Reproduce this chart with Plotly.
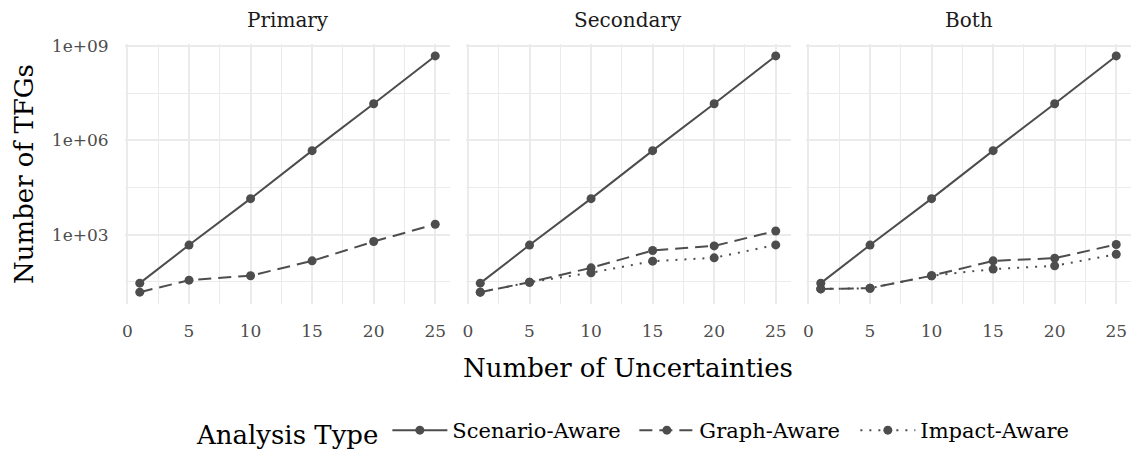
import plotly.graph_objects as go
from plotly.subplots import make_subplots

# Number of uncertainties on the x axis
uncertainties = [1, 5, 10, 15, 20, 25]

# Number of TFGs per analysis type and facet
scenario_aware = [29, 470, 14000, 470000, 1.45e7, 4.8e8]

primary_graph = [15, 36, 50, 148, 610, 2150]

secondary_graph = [15, 31, 89, 316, 443, 1320]
secondary_impact = [15, 31, 62, 145, 185, 475]

both_graph = [19, 20, 50, 148, 180, 490]
both_impact = [19, 20, 50, 81, 103, 240]

facets = ["Primary", "Secondary", "Both"]
analysis_types = ["Scenario-Aware", "Graph-Aware", "Impact-Aware"]
y_tick_vals = [1e3, 1e6, 1e9]
y_tick_text = ["1e+03", "1e+06", "1e+09"]
x_tick_vals = [0, 5, 10, 15, 20, 25]

panel_series = [
    {"Scenario-Aware": scenario_aware, "Graph-Aware": primary_graph},
    {"Scenario-Aware": scenario_aware, "Graph-Aware": secondary_graph,
     "Impact-Aware": secondary_impact},
    {"Scenario-Aware": scenario_aware, "Graph-Aware": both_graph,
     "Impact-Aware": both_impact},
]

line_dash = {"Scenario-Aware": "solid", "Graph-Aware": "13px,7px",
             "Impact-Aware": "2px,7px"}
# horizontal room given to each legend entry's label
entry_width = {"Scenario-Aware": 177, "Graph-Aware": 151, "Impact-Aware": 155}

INK = "#4d4d4d"
GRID = "#ebebeb"
FONT = "DejaVu Serif"

W, H = 1132, 474
L, R, T, B = 125, 1, 44, 170
plot_w = W - L - R
plot_h = H - T - B
gap = 15.5
panel_w = (plot_w - 2 * gap) / 3

fig = make_subplots(rows=1, cols=3, shared_yaxes=True,
                    horizontal_spacing=gap / plot_w)

shown = set()
for col, series in enumerate(panel_series, start=1):
    for name in analysis_types:
        if name not in series:
            continue
        fig.add_trace(
            go.Scatter(
                x=uncertainties, y=series[name], name=name,
                mode="lines+markers",
                line=dict(color=INK, width=2, dash=line_dash[name]),
                marker=dict(color=INK, size=9),
                legendgroup=name,
                legendwidth=entry_width[name],
                showlegend=name not in shown,
            ),
            row=1, col=col,
        )
        shown.add(name)

for col in range(1, 4):
    fig.update_xaxes(
        range=[-0.2, 26.2], tickvals=x_tick_vals,
        showgrid=True, gridcolor=GRID, gridwidth=2,
        minor=dict(tickvals=[2.5, 7.5, 12.5, 17.5, 22.5], showgrid=True,
                   gridcolor=GRID, gridwidth=1),
        zeroline=False, showline=False,
        ticks="outside", ticklen=12, tickcolor="rgba(0,0,0,0)",
        tickfont=dict(family=FONT, size=17, color=INK),
        row=1, col=col,
    )
    fig.update_yaxes(
        type="log", range=[0.80, 9.06],
        tickvals=y_tick_vals, ticktext=y_tick_text,
        showgrid=True, gridcolor=GRID, gridwidth=2,
        minor=dict(tickvals=[10 ** 1.5, 10 ** 4.5, 10 ** 7.5], showgrid=True,
                   gridcolor=GRID, gridwidth=1),
        zeroline=False, showline=False,
        ticks="outside", ticklen=12, tickcolor="rgba(0,0,0,0)",
        tickfont=dict(family=FONT, size=17, color=INK),
        row=1, col=col,
    )

annotations = []
for i, name in enumerate(facets):
    cx = (i * (panel_w + gap) + panel_w / 2) / plot_w
    annotations.append(dict(
        text=name, x=cx, y=1, xref="paper", yref="paper",
        xanchor="center", yanchor="bottom", yshift=10, showarrow=False,
        font=dict(family=FONT, size=20, color="#1a1a1a"),
    ))

annotations.append(dict(
    text="Number of Uncertainties", x=0.5, y=(T + plot_h - 368) / plot_h,
    xref="paper", yref="paper", xanchor="center", yanchor="middle",
    showarrow=False, font=dict(family=FONT, size=26, color="black"),
))
annotations.append(dict(
    text="Number of TFGs", x=(24 - L) / plot_w, y=0.5,
    xref="paper", yref="paper", xanchor="center", yanchor="middle",
    textangle=-90, showarrow=False,
    font=dict(family=FONT, size=26, color="black"),
))

fig.update_layout(
    width=W, height=H,
    margin=dict(l=L, r=R, t=T, b=B),
    plot_bgcolor="white", paper_bgcolor="white",
    annotations=annotations,
    legend=dict(
        orientation="h", x=(195 - L) / plot_w, xanchor="left",
        y=(T + plot_h - 432) / plot_h, yanchor="middle",
        title=dict(text="Analysis Type", side="left",
                   font=dict(family=FONT, size=26, color="black")),
        font=dict(family=FONT, size=21, color="black"),
        itemwidth=55,
    ),
)

fig.write_html("out.html")
